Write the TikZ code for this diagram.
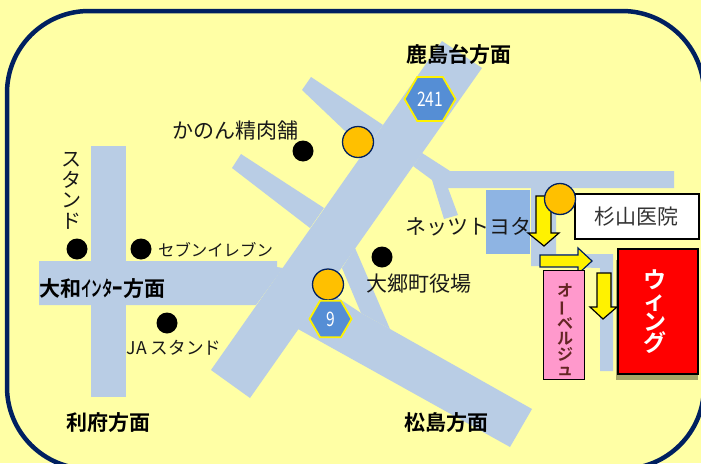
\documentclass[tikz,border=0pt]{standalone}
\usepackage{fontspec}
\setmainfont{Noto Sans CJK JP}[BoldFont={Noto Sans CJK JP Bold}]
\usetikzlibrary{shapes.geometric}
\definecolor{roadc}{HTML}{B9CDE5}
\definecolor{bgc}{HTML}{FFFFA5}
\definecolor{navy}{HTML}{002060}
\definecolor{hexc}{HTML}{558ED5}
\definecolor{bldg}{HTML}{8EB4E3}
\definecolor{ora}{HTML}{FFC000}
\definecolor{pinkc}{HTML}{FF99CC}
\definecolor{brownc}{HTML}{632523}
\definecolor{shadowc}{HTML}{A6A667}
\newcommand{\vbar}{\rotatebox[origin=c]{90}{ー}}
\tikzset{
 x=1pt,y=-1pt,
 road/.style={fill=roadc,draw=none},
 blackdot/.style={circle,fill=black,minimum width=19pt,minimum height=21pt,inner sep=0pt},
 orangedot/.style={circle,fill=ora,draw=navy,line width=1.3pt,minimum size=31pt,inner sep=0pt},
 hexa/.style={regular polygon,regular polygon sides=6,fill=hexc,draw=yellow,line width=1.8pt,inner sep=0pt,text=white},
 lbl/.style={inner sep=0pt,font=\fontsize{21}{21}\selectfont,text=black!90},
 dir/.style={inner sep=0pt,font=\fontsize{21}{21}\selectfont\bfseries},
 arrowy/.style={fill=yellow,draw=black,line width=1.2pt},
}
\begin{document}
\begin{tikzpicture}
\useasboundingbox (0,0) rectangle (701,463);
\fill[bgc] (0,0) rectangle (701,463);
\draw[fill=bgc,draw=navy,line width=4.5pt,rounded corners=82pt] (7,11) rectangle (704,469);
% roads
\fill[road] (442,41)--(482,68)--(250,398)--(211,370)--cycle;
\fill[road] (311,77)--(383,125)--(365,150)--(302,90)--cycle;
\fill[road] (241,154)--(324,208)--(310,228)--(232,168)--cycle;
\fill[road] (422,153)--(450,171)--(674,171)--(674,188)--(448,188)--(458,215)--(444,219)--(432,180)--(413,166)--cycle;
\fill[road] (355,248)--(390,329)--(361,313)--(342,268)--cycle;
\fill[road] (390,329)--(532,409)--(510,447)--(298,329)--(326,290)--(361,313)--cycle;
\fill[road] (39,261)--(277,261)--(277,267)--(283,268)--(256,305)--(39,305)--cycle;
\fill[road] (91,146) rectangle (126,397);
\fill[road] (531,186)--(556,186)--(556,254)--(613,254)--(613,371)--(600,371)--(600,268)--(531,266)--cycle;
\node[fill=bldg,draw=bgc,line width=.5pt,minimum width=45pt,minimum height=65pt,inner sep=0pt,anchor=north west] (toyota) at (485,189) {};
% buildings
\fill[shadowc] (616,260) rectangle (698,380);
\node[draw=black,fill=red,line width=1.5pt,minimum width=80pt,minimum height=125pt,inner sep=0pt,anchor=north west] (wing) at (617,248) {};
\draw[fill=yellow,draw=navy,line width=1.2pt] (540,255)--(578,255)--(578,248)--(592,261)--(578,274)--(578,267)--(540,267)--cycle;
\node[draw=black,fill=pinkc,line width=1pt,minimum width=41pt,minimum height=109pt,inner sep=0pt,anchor=north west] (orb) at (543,270) {};
\node[draw=black,fill=white,line width=1.5pt,minimum width=124pt,minimum height=45pt,inner sep=0pt,anchor=north west,font=\fontsize{21}{21}\selectfont,text=black!80] (sugi) at (574,193) {\raisebox{-5pt}{杉山医院}};
% vertical text
\node[inner sep=0pt,text=white,font=\fontsize{23}{21}\selectfont\bfseries,align=center] (wingt) at (655,312) {ウ\\ィ\\ン\\グ};
\node[inner sep=0pt,text=brownc,font=\fontsize{16}{15.5}\selectfont\bfseries,align=center] (orbt) at (565,330) {オ\\\vbar\\ベ\\ル\\ジ\\ュ};
% arrows
\draw[arrowy] (536,196)--(551,196)--(551,233)--(559,233)--(544,246)--(528,233)--(536,233)--cycle;
\draw[arrowy] (597,273)--(611,273)--(611,307)--(617,307)--(603,319)--(590,307)--(597,307)--cycle;
% dots
\node[orangedot] (o1) at (358,142) {};
\node[orangedot] (o2) at (328,284.5) {};
\node[orangedot] (o3) at (560,199) {};
\node[hexa,minimum size=51pt] (h241) at (430,99) {\scalebox{.78}[1]{\fontsize{20}{20}\selectfont 241}};
\node[hexa,minimum size=42pt] (h9) at (330.5,319) {\scalebox{.78}[1]{\fontsize{20}{20}\selectfont 9}};
\node[blackdot] (d1) at (303,151) {};
\node[blackdot] (d2) at (77,249) {};
\node[blackdot] (d3) at (141,249) {};
\node[blackdot] (d4) at (167,323) {};
\node[blackdot] (d5) at (382,257) {};
% labels
\node[dir] (t1) at (459,55) {鹿島台方面};
\node[dir] (t2) at (108,423) {利府方面};
\node[dir] (t3) at (446,423) {松島方面};
\node[dir] (t4) at (102,289) {大和\scalebox{.5}[1]{インター}方面};
\node[lbl] (t5) at (235,131) {かのん精肉舗};
\node[lbl] (t6) at (468,227) {ネッツトヨタ};
\node[lbl] (t7) at (419,284) {大郷町役場};
\node[lbl,font=\fontsize{16.4}{16.4}\selectfont] (t8) at (215.5,250) {セブンイレブン};
\node[lbl,font=\fontsize{17.6}{17.6}\selectfont] (t9) at (174,348) {JA スタンド};
\node[lbl,font=\fontsize{20}{20.5}\selectfont,align=center] (t10) at (71,191) {ス\\タ\\ン\\ド};
\end{tikzpicture}
\end{document}
